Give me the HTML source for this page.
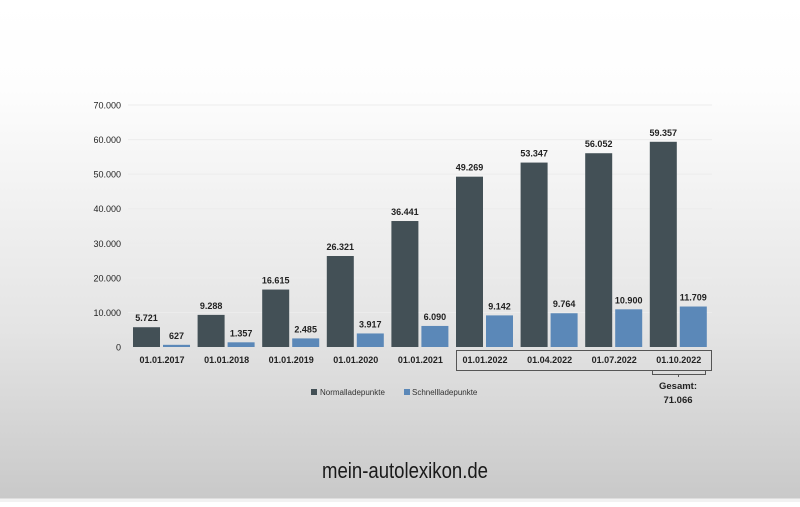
<!DOCTYPE html>
<html><head><meta charset="utf-8"><style>
html,body{margin:0;padding:0}
body{width:800px;height:502px;overflow:hidden;background:linear-gradient(#ffffff 0px,#fdfdfd 90px,#e4e4e4 330px,#c9c9c9 498px,#f2f2f2 499px,#f2f2f2 502px);font-family:"Liberation Sans",sans-serif}
svg text{font-family:"Liberation Sans",sans-serif}
</style></head><body>
<svg id="chart" width="800" height="502" viewBox="0 0 800 502"></svg>
<script>
const categories=["01.01.2017","01.01.2018","01.01.2019","01.01.2020","01.01.2021","01.01.2022","01.04.2022","01.07.2022","01.10.2022"];
const normal=[5721,9288,16615,26321,36441,49269,53347,56052,59357];
const fast=[627,1357,2485,3917,6090,9142,9764,10900,11709];
const normalLabels=["5.721","9.288","16.615","26.321","36.441","49.269","53.347","56.052","59.357"];
const fastLabels=["627","1.357","2.485","3.917","6.090","9.142","9.764","10.900","11.709"];
const yTicks=[0,10000,20000,30000,40000,50000,60000,70000];
const yTickLabels=["0","10.000","20.000","30.000","40.000","50.000","60.000","70.000"];
const totalLabel="71.066";
const NS="http://www.w3.org/2000/svg";
const svg=document.getElementById("chart");
const y=v=>347-v*(242/70000);
const xc=i=>162+64.6*i;
function mk(tag,attrs,txt){const e=document.createElementNS(NS,tag);for(const k in attrs)e.setAttribute(k,attrs[k]);if(txt!==undefined)e.textContent=txt;svg.appendChild(e);return e;}
yTicks.forEach((t,i)=>{
  if(t>0){const g=mk("line",{x1:128,x2:712,y1:y(t),y2:y(t),stroke:"#ececec","stroke-width":1});
  
  }
  const l=mk("text",{x:121,y:y(t)+3.5,"text-anchor":"end","font-size":9,fill:"#222"},yTickLabels[i]);
  
  
});
categories.forEach((c,i)=>{
  const cx=xc(i);
  const b1=mk("rect",{x:cx-29,y:y(normal[i]),width:27,height:347-y(normal[i]),fill:"#435056"});
  
  
  const b2=mk("rect",{x:cx+1,y:y(fast[i]),width:27,height:347-y(fast[i]),fill:"#5b88b8"});
  
  
  const t1=mk("text",{x:cx-15.5,y:y(normal[i])-6,"text-anchor":"middle","font-size":9,"font-weight":"bold",fill:"#222"},normalLabels[i]);
  
  
  const t2=mk("text",{x:cx+14.5,y:y(fast[i])-6,"text-anchor":"middle","font-size":9,"font-weight":"bold",fill:"#222"},fastLabels[i]);
  
  
  const xl=mk("text",{x:cx,y:363,"text-anchor":"middle","font-size":9,"font-weight":"bold",fill:"#222"},c);
  
  
});
const box=mk("rect",{x:456.5,y:350.5,width:255,height:20,fill:"none",stroke:"#555","stroke-width":1});


const br=mk("path",{d:"M652.5 370.5 V374.5 H705.5 V370.5 M678.5 374.5 V377",fill:"none",stroke:"#555","stroke-width":1});


const g1=mk("text",{x:678,y:389,"text-anchor":"middle","font-size":9.5,"font-weight":"bold",fill:"#222"},"Gesamt:");


const g2=mk("text",{x:678,y:403,"text-anchor":"middle","font-size":9.5,"font-weight":"bold",fill:"#222"},totalLabel);


const ls1=mk("rect",{x:311,y:389,width:6,height:6,fill:"#435056"});


const lt1=mk("text",{x:320,y:395,"font-size":8,fill:"#333"},"Normalladepunkte");


const ls2=mk("rect",{x:404,y:389,width:6,height:6,fill:"#5b88b8"});


const lt2=mk("text",{x:412,y:395,"font-size":8,fill:"#333"},"Schnellladepunkte");


const logo=mk("text",{x:405,y:478,"text-anchor":"middle","font-size":22,fill:"#1a1a1a","textLength":166,"lengthAdjust":"spacingAndGlyphs"},"mein-autolexikon.de");


</script>
</body></html>
